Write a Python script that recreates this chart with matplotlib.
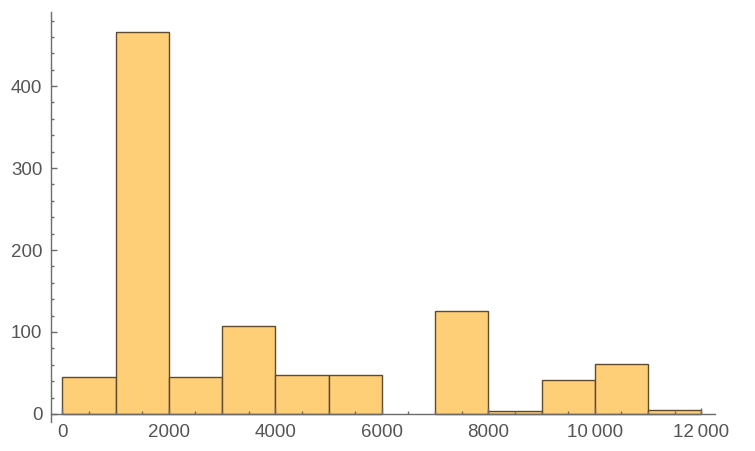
import numpy as np
import matplotlib.pyplot as plt
from matplotlib.ticker import MultipleLocator, FuncFormatter

# histogram bins (width 1000) and counts
bin_edges = [0, 1000, 2000, 3000, 4000, 5000, 6000, 7000, 8000, 9000, 10000, 11000, 12000]
counts = [45, 466, 45, 107, 48, 47, 0, 126, 4, 42, 61, 5]

face = '#ffcf78'
edge = '#5e4a2c'
axis_col = '#6b6b6b'
text_col = '#555555'

plt.rcParams['font.family'] = ['Liberation Sans', 'DejaVu Sans']

fig = plt.figure(figsize=(7.55, 4.51), dpi=100)
ax = fig.add_axes([0.0672, 0.0643, 0.8798, 0.9084])

lefts = np.array(bin_edges[:-1])
widths = np.diff(bin_edges)
h = np.array(counts)
keep = h > 0
ax.bar(lefts[keep], h[keep], width=widths[keep], align='edge',
       color=face, edgecolor=edge, linewidth=1.0)

ax.set_xlim(-218, 12257)
ax.set_ylim(-9.8, 490)

for s in ['top', 'right']:
    ax.spines[s].set_visible(False)
ax.spines['bottom'].set_position(('data', 0))
for s in ['left', 'bottom']:
    ax.spines[s].set_color(axis_col)
    ax.spines[s].set_linewidth(1.0)

ax.xaxis.set_major_locator(MultipleLocator(2000))
ax.xaxis.set_minor_locator(MultipleLocator(500))
ax.yaxis.set_major_locator(MultipleLocator(100))
ax.yaxis.set_minor_locator(MultipleLocator(20))


def fmt(v, pos):
    n = int(round(v))
    if abs(n) >= 10000:
        s = '{:,}'.format(n).replace(',', '\u2009')
        return s
    return str(n)


ax.xaxis.set_major_formatter(FuncFormatter(fmt))

ax.tick_params(which='both', direction='in', color=axis_col, width=1.0,
               labelcolor=text_col, labelsize=13.5)
ax.tick_params(which='major', length=4.5)
ax.tick_params(which='minor', length=2.5)
ax.tick_params(axis='x', which='major', pad=7)
ax.tick_params(axis='y', which='major', pad=6)

fig.savefig('out.png', dpi=100)
